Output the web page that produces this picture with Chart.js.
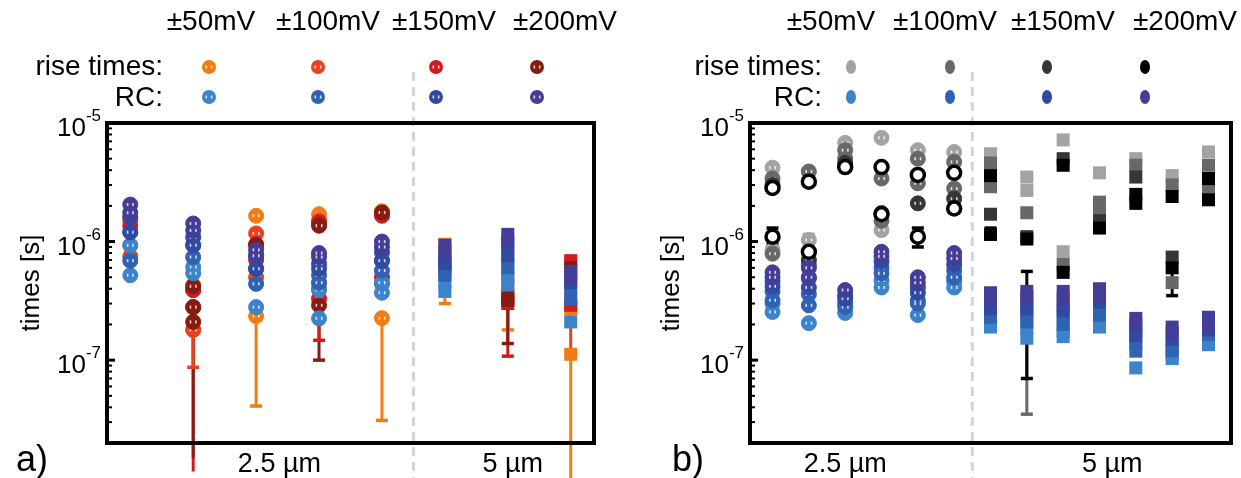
<!DOCTYPE html>
<html>
<head>
<meta charset="utf-8">
<script src="https://cdn.jsdelivr.net/npm/chart.js@4.4.0/dist/chart.umd.min.js"></script>
<style>
  html, body { margin: 0; padding: 0; background: #fff; }
  #wrap { position: relative; width: 1241px; height: 478px; overflow: hidden; }
  .panel { position: absolute; top: 0; height: 478px; }
  #pa { left: 0; width: 620px; }
  #pb { left: 620px; width: 621px; }
</style>
</head>
<body>
<div id="wrap">
  <div class="panel" id="pa"><canvas id="chartA"></canvas></div>
  <div class="panel" id="pb"><canvas id="chartB"></canvas></div>
</div>
<script>
var voltages = ['±50mV', '±100mV', '±150mV', '±200mV'];
var groups = ['2.5 µm', '5 µm'];

// panel a: columns 0-4 are 2.5 µm samples, 5-7 are 5 µm samples
var aRise50  = [[1.6e-6, 0.93e-6], [0.43e-6, 0.18e-6], [1.65e-6, 0.235e-6], [1.7e-6, 0.45e-6], [1.8e-6, 0.226e-6], [0.95e-6, 0.75e-6], [0.5e-6, 0.41e-6], [0.27e-6, 0.112e-6]];
var aRise100 = [[1.5e-6, 0.75e-6], [0.39e-6, 0.18e-6], [1.17e-6, 0.5e-6], [1.5e-6, 0.4e-6], [1.7e-6, 0.44e-6], [0.6e-6], [0.32e-6], [0.3e-6]];
var aRise150 = [[1.35e-6], [0.39e-6, 0.28e-6], [0.95e-6, 0.7e-6], [1.45e-6, 0.33e-6], [1.65e-6, 0.5e-6], [0.65e-6], [0.3e-6], [0.69e-6, 0.29e-6]];
var aRise200 = [[], [0.42e-6, 0.28e-6, 0.21e-6], [0.93e-6], [1.36e-6, 0.29e-6], [1.76e-6], [], [0.35e-6, 0.32e-6], [0.6e-6]];
var aRc50    = [[0.93e-6, 0.52e-6], [0.61e-6, 0.54e-6], [0.28e-6], [0.39e-6, 0.225e-6], [0.45e-6, 0.37e-6], [0.45e-6, 0.38e-6], [0.52e-6, 0.43e-6], [0.21e-6]];
var aRc100   = [[1.2e-6, 0.69e-6], [0.93e-6, 0.74e-6], [0.59e-6, 0.44e-6], [0.52e-6, 0.45e-6], [0.69e-6, 0.57e-6], [0.57e-6, 0.52e-6], [0.68e-6, 0.6e-6], [0.4e-6, 0.33e-6]];
var aRc150   = [[1.6e-6, 1.2e-6], [1.09e-6, 0.93e-6], [0.76e-6, 0.59e-6], [0.65e-6, 0.59e-6], [0.81e-6, 0.69e-6], [0.72e-6, 0.65e-6], [0.88e-6, 0.76e-6], [0.45e-6]];
var aRc200   = [[2.05e-6, 1.75e-6], [1.42e-6, 1.24e-6], [0.85e-6, 0.76e-6], [0.8e-6, 0.74e-6], [1.0e-6, 0.9e-6], [0.93e-6, 0.82e-6], [1.15e-6, 1.0e-6], [0.56e-6, 0.5e-6]];
// error bars: [voltage index, column, low, high]; later entries sit on top
var aErrors = [[2, 1, 1.15e-8, 0.28e-6], [3, 1, 1.5e-8, 0.21e-6], [1, 1, 8.7e-8, 0.18e-6],
               [0, 2, 4.1e-8, 0.235e-6],
               [3, 3, 1.0e-7, 0.29e-6], [2, 3, 1.47e-7, 0.29e-6],
               [0, 4, 3.1e-8, 0.226e-6],
               [0, 5, 0.3e-6, 0.4e-6],
               [2, 6, 0.108e-6, 0.3e-6], [0, 6, 0.18e-6, 0.3e-6], [3, 6, 0.138e-6, 0.3e-6],
               [0, 7, 1.0e-8, 0.112e-6], [1, 7, 0.112e-6, 0.69e-6], [3, 7, 0.6e-6, 0.73e-6]];

// panel b: columns 0-5 are 2.5 µm samples, 6-12 are 5 µm samples
var bRise50  = [[4.2e-6, 0.85e-6], [1.03e-6], [6.8e-6], [7.5e-6, 1.25e-6], [5.9e-6], [5.7e-6], [5.5e-6], [3.5e-6, 2.7e-6], [7.2e-6, 0.82e-6], [3.8e-6], [5.0e-6], [3.6e-6], [5.7e-6]];
var bRise100 = [[3.4e-6, 0.79e-6], [3.9e-6, 0.64e-6], [5.9e-6, 5.05e-6], [3.4e-6, 1.5e-6], [5.0e-6, 3.1e-6], [4.7e-6, 2.8e-6], [4.6e-6, 2.9e-6], [1.75e-6], [0.64e-6], [2.15e-6, 1.85e-6], [4.4e-6], [3.0e-6, 0.45e-6], [4.4e-6, 2.7e-6]];
var bRise150 = [[3.0e-6], [0.7e-6], [4.6e-6], [1.74e-6], [2.1e-6], [2.3e-6], [1.7e-6], [1.1e-6], [5.0e-6], [1.5e-6], [3.5e-6], [0.74e-6], [3.4e-6]];
var bRise200 = [[2.83e-6, 1.1e-6], [3.2e-6, 0.82e-6], [4.25e-6], [4.25e-6, 1.7e-6], [3.65e-6, 1.1e-6], [3.8e-6, 1.9e-6], [3.6e-6, 1.15e-6], [1.05e-6], [4.4e-6, 0.55e-6], [1.3e-6], [2.5e-6, 2.1e-6], [2.4e-6, 0.6e-6], [3.4e-6, 2.25e-6]];
var bRc50    = [[0.3e-6, 0.255e-6], [0.205e-6], [0.25e-6], [0.47e-6, 0.41e-6], [0.24e-6], [0.46e-6, 0.41e-6], [0.21e-6, 0.19e-6], [0.185e-6, 0.153e-6], [0.175e-6, 0.158e-6], [0.22e-6, 0.19e-6], [0.086e-6], [0.11e-6, 0.103e-6], [0.15e-6, 0.135e-6]];
var bRc100   = [[0.38e-6, 0.32e-6], [0.36e-6, 0.29e-6], [0.3e-6, 0.28e-6], [0.6e-6, 0.54e-6], [0.32e-6, 0.3e-6], [0.57e-6, 0.5e-6], [0.25e-6, 0.23e-6], [0.24e-6, 0.21e-6], [0.23e-6, 0.2e-6], [0.27e-6, 0.24e-6], [0.14e-6, 0.119e-6], [0.135e-6, 0.12e-6], [0.165e-6]];
var bRc150   = [[0.46e-6, 0.42e-6], [0.49e-6, 0.41e-6], [0.35e-6, 0.33e-6], [0.68e-6], [0.41e-6, 0.37e-6], [0.64e-6], [0.3e-6, 0.27e-6], [0.3e-6, 0.27e-6], [0.29e-6, 0.26e-6], [0.31e-6], [0.18e-6, 0.16e-6], [0.15e-6], [0.18e-6]];
var bRc200   = [[0.55e-6, 0.5e-6], [0.6e-6, 0.5e-6], [0.39e-6], [0.82e-6, 0.75e-6], [0.5e-6, 0.45e-6], [0.8e-6, 0.72e-6], [0.37e-6, 0.33e-6], [0.38e-6, 0.34e-6], [0.38e-6, 0.33e-6], [0.4e-6, 0.35e-6], [0.225e-6, 0.2e-6], [0.19e-6, 0.17e-6], [0.23e-6, 0.2e-6]];
var bErrors = [[3, 0, 0.95e-6, 1.3e-6], [0, 1, 0.9e-6, 1.15e-6], [3, 4, 0.9e-6, 1.3e-6], [3, 5, 1.75e-6, 2.05e-6],
               [3, 6, 1.05e-6, 1.3e-6], [1, 7, 0.035e-6, 0.2e-6], [3, 7, 0.07e-6, 0.56e-6], [3, 11, 0.35e-6, 0.8e-6]];

var riseColorsA = ['#f27c14', '#e9401d', '#d11a1d', '#861b12'];
var riseColorsB = ['#a3a3a3', '#686868', '#363636', '#000000'];
var rcColors    = ['#3b83cb', '#3062b3', '#3249a2', '#443d97'];

var FONT = "'Liberation Sans', Arial, sans-serif";
var CIRCLE_R = 7.5, SQUARE_R = 9.2;

function toPoints(cols) {
  var pts = [];
  cols.forEach(function (vals, i) {
    vals.forEach(function (v) { pts.push({ x: i, y: v }); });
  });
  return pts;
}

function pointSet(cols, color, split, order, ring) {
  var isSq = function (c) { return c.raw && c.raw.x > split; };
  return {
    data: toPoints(cols),
    order: order,
    marker: true,
    ring: ring,
    split: split,
    backgroundColor: function (c) { return ring && !isSq(c) ? '#fff' : color; },
    borderColor: color,
    borderWidth: function (c) { return isSq(c) ? 0 : (ring ? 3.5 : 1); },
    pointStyle: function (c) { return isSq(c) ? 'rect' : 'circle'; },
    pointRadius: function (c) { return isSq(c) ? SQUARE_R : (ring ? 6.5 : CIRCLE_R); },
    pointHoverRadius: function (c) { return isSq(c) ? SQUARE_R : (ring ? 6.5 : CIRCLE_R); }
  };
}

function errorSets(errs, colors) {
  return errs.map(function (e, i) {
    return {
      data: [{ x: e[1], y: e[2] }, { x: e[1], y: e[3] }],
      order: 80 - i,
      showLine: true,
      clip: false,
      borderColor: colors[e[0]],
      borderWidth: 3,
      pointStyle: 'line',
      pointRadius: 6,
      pointBorderWidth: 3.5,
      pointBorderColor: colors[e[0]],
      backgroundColor: colors[e[0]]
    };
  });
}

// small white whisker marks inside the round markers
var whiskers = {
  id: 'whiskers',
  afterDatasetDraw: function (chart, args) {
    var ds = chart.data.datasets[args.index];
    if (!ds.marker || ds.ring) return;
    var ctx = chart.ctx;
    ctx.save();
    ctx.fillStyle = 'rgba(255,255,255,0.8)';
    args.meta.data.forEach(function (el, j) {
      if (ds.data[j].x > ds.split) return;
      ctx.fillRect(el.x - 3.5, el.y - 1.5, 1.6, 3);
      ctx.fillRect(el.x + 1.9, el.y - 1.5, 1.6, 3);
    });
    ctx.restore();
  }
};

function drawPow(ctx, exp, xr, y) {
  ctx.textBaseline = 'alphabetic';
  ctx.font = '17px ' + FONT;
  var sup = String(exp);
  var ws = ctx.measureText(sup).width;
  ctx.textAlign = 'right';
  ctx.fillText(sup, xr, y - 2);
  ctx.font = '26px ' + FONT;
  ctx.fillText('10', xr - ws, y + 13);
}

function decor(o) {
  return {
    id: 'decor',
    beforeDatasetsDraw: function (chart) {
      var ctx = chart.ctx;
      var x = chart.scales.x.getPixelForValue(o.split);
      ctx.save();
      ctx.strokeStyle = '#d4d4d4';
      ctx.lineWidth = 3;
      ctx.setLineDash([9, 6]);
      ctx.beginPath();
      ctx.moveTo(x, 72);
      ctx.lineTo(x, chart.height);
      ctx.stroke();
      ctx.restore();
    },
    afterDraw: function (chart) {
      var ctx = chart.ctx, a = chart.chartArea, ys = chart.scales.y, xs = chart.scales.x;
      ctx.save();
      ctx.setLineDash([]);
      ctx.strokeStyle = '#000';
      ctx.fillStyle = '#000';

      // log ticks on the left edge, inside the frame
      for (var e = -8; e <= -5; e++) {
        for (var k = 1; k <= 9; k++) {
          var v = k * Math.pow(10, e);
          if (v < ys.min * 0.999 || v > ys.max * 1.001) continue;
          var py = ys.getPixelForValue(v);
          ctx.lineWidth = k === 1 ? 3 : 2;
          ctx.beginPath();
          ctx.moveTo(a.left, py);
          ctx.lineTo(a.left + (k === 1 ? 8 : 5), py);
          ctx.stroke();
        }
        if (e >= -7) drawPow(ctx, e, a.left - 6, ys.getPixelForValue(Math.pow(10, e)));
      }

      // frame
      ctx.lineWidth = 4;
      ctx.strokeRect(a.left, a.top, a.right - a.left, a.bottom - a.top);

      // axis title
      ctx.save();
      ctx.translate(o.titleX, (a.top + a.bottom) / 2);
      ctx.rotate(-Math.PI / 2);
      ctx.font = '26px ' + FONT;
      ctx.textAlign = 'center';
      ctx.textBaseline = 'middle';
      ctx.fillText('times [s]', 0, 0);
      ctx.restore();

      // group labels under the frame
      ctx.font = '27px ' + FONT;
      ctx.textAlign = 'center';
      ctx.textBaseline = 'middle';
      ctx.fillText(groups[0], xs.getPixelForValue(o.groupAt[0]), 465);
      ctx.fillText(groups[1], xs.getPixelForValue(o.groupAt[1]), 465);

      // panel letter
      ctx.font = '36px ' + FONT;
      ctx.textAlign = 'left';
      ctx.fillText(o.letter, o.letterX, 461);

      // voltage header and legend rows
      ctx.font = '28px ' + FONT;
      ctx.textAlign = 'center';
      voltages.forEach(function (t, i) { ctx.fillText(t, o.headX[i], 22); });
      ctx.textAlign = 'right';
      ctx.fillText('rise times:', o.rowRight, 67);
      ctx.fillText('RC:', o.rowRight, 98);
      for (var i = 0; i < 4; i++) {
        [[o.riseColors[i], 67], [rcColors[i], 97]].forEach(function (m) {
          ctx.fillStyle = m[0];
          ctx.beginPath();
          ctx.ellipse(o.markX[i], m[1], o.markW, 7, 0, 0, Math.PI * 2);
          ctx.fill();
          if (o.markEyes) {
            ctx.fillStyle = 'rgba(255,255,255,0.8)';
            ctx.fillRect(o.markX[i] - 3.5, m[1] - 1.5, 1.6, 3);
            ctx.fillRect(o.markX[i] + 1.9, m[1] - 1.5, 1.6, 3);
          }
        });
      }
      ctx.restore();
    }
  };
}

function makePanel(id, rise, rc, errs, riseColors, nCols, split, pad, o) {
  var datasets = [];
  rc.forEach(function (cols, i) { datasets.push(pointSet(cols, rcColors[i], split, 3 - i, false)); });
  rise.forEach(function (cols, i) { datasets.push(pointSet(cols, riseColors[i], split, 13 - i, o.ringLast && i === 3)); });
  datasets = datasets.concat(errorSets(errs, riseColors));
  o.split = split;
  o.riseColors = riseColors;
  var margin = o.margin;
  return new Chart(document.getElementById(id), {
    type: 'scatter',
    data: { datasets: datasets },
    options: {
      responsive: true,
      maintainAspectRatio: false,
      animation: false,
      layout: { padding: pad },
      plugins: { legend: { display: false }, tooltip: { enabled: false } },
      scales: {
        x: { type: 'linear', min: -margin, max: nCols - 1 + margin, display: false },
        y: { type: 'logarithmic', min: 2e-8, max: 1e-5, display: false }
      }
    },
    plugins: [decor(o), whiskers]
  });
}

makePanel('chartA', [aRise50, aRise100, aRise150, aRise200], [aRc50, aRc100, aRc150, aRc200], aErrors, riseColorsA, 8, 4.5,
  { left: 107, right: 26, top: 123, bottom: 35 },
  { margin: 0.37, titleX: 32, groupAt: [2.37, 6.08], letter: 'a)', letterX: 16,
    headX: [211, 328, 444, 565], markX: [209, 318, 436, 537], rowRight: 163,
    ringLast: false, markW: 7, markEyes: true });

makePanel('chartB', [bRise50, bRise100, bRise150, bRise200], [bRc50, bRc100, bRc150, bRc200], bErrors, riseColorsB, 13, 5.5,
  { left: 130, right: 4, top: 123, bottom: 35 },
  { margin: 0.62, titleX: 52, groupAt: [2.0, 9.35], letter: 'b)', letterX: 52,
    headX: [211, 325, 443, 565], markX: [231, 330, 427, 525], rowRight: 202,
    ringLast: true, markW: 5, markEyes: false });
</script>
</body>
</html>
